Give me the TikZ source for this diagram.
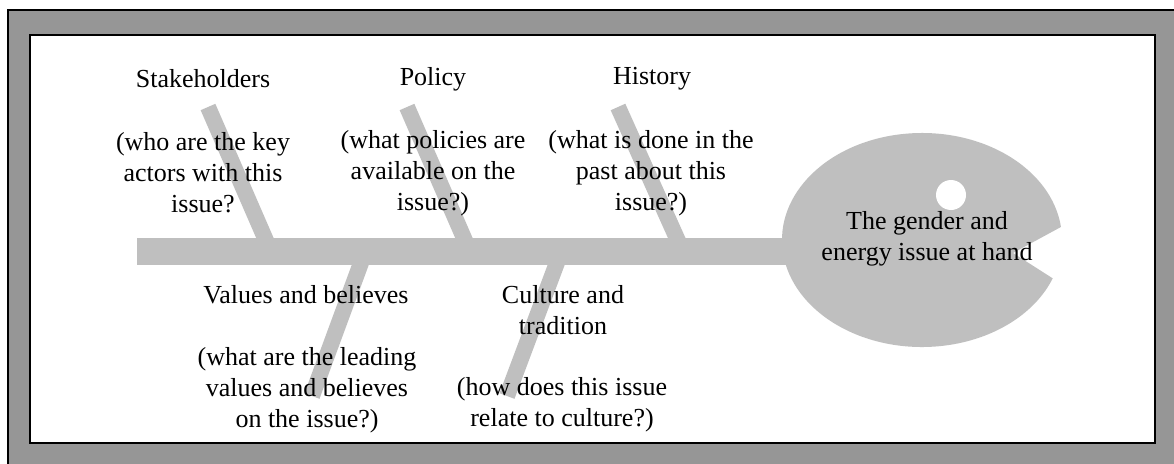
\documentclass[tikz,border=0pt]{standalone}
\usepackage{fontspec}
\setmainfont{Liberation Serif}
\usetikzlibrary{calc}
\newcommand{\clrbone}{black!25}
\newcommand{\clrframe}{black!41}

\begin{document}
\begin{tikzpicture}[x=1pt, y=-1pt, every node/.style={font=\fontsize{26}{31}\selectfont, align=center, inner sep=0pt}]
    \useasboundingbox (0,0) rectangle (1174,463);
    \fill[\clrframe] (8,10) rectangle (1180,470);
    \draw[line width=1.2pt] (8,470) -- (8,10) -- (1180,10);
    \draw[fill=white, line width=1.5pt] (30,35) rectangle (1155,443);

    \coordinate (tail) at (137,251.5);
    \coordinate (neck) at (820,251.5);
    \draw[\clrbone, line width=27pt] (tail) -- (neck);

    \foreach \i/\x/\y in {1/208/271,2/407/470,3/618/683} {
        \coordinate (top\i) at (\x,107);
        \coordinate (join\i) at (\y,252);
        \draw[\clrbone, line width=16pt] (top\i) -- (join\i);
    }
    \foreach \i/\x/\y in {4/312/365,5/507/561} {
        \coordinate (top\i) at (\x,396);
        \coordinate (join\i) at (\y,252);
        \draw[\clrbone, line width=16pt] (top\i) -- (join\i);
    }

    \coordinate (head) at (922,240);
    \coordinate (mouth) at (1013,253);
    \fill[\clrbone] (mouth) -- ($(head)+(-7:140 and 107)$) arc[start angle=-7, end angle=-339, x radius=140, y radius=107] -- cycle;
    \fill[white] (951,195) circle[radius=15];

    \node (issue) at (927,239) {The gender and\\energy issue at hand};

    \node (title1) at (203,79) {Stakeholders};
    \node (title2) at (433,79) {Policy};
    \node (title3) at (652,79) {History};
    \node (title4) at (306,295) {Values and believes};
    \node (title5) at (563,310) {Culture and\\tradition};

    \node (desc1) at (203,173) {(who are the key\\actors with this\\issue?};
    \node (desc2) at (433,173) {(what policies are\\available on the\\issue?)};
    \node (desc3) at (651,173) {(what is done in the\\past about this\\issue?)};
    \node (desc4) at (307,390) {(what are the leading\\values and believes\\on the issue?)};
    \node (desc5) at (562,405) {(how does this issue\\relate to culture?)};
\end{tikzpicture}
\end{document}
